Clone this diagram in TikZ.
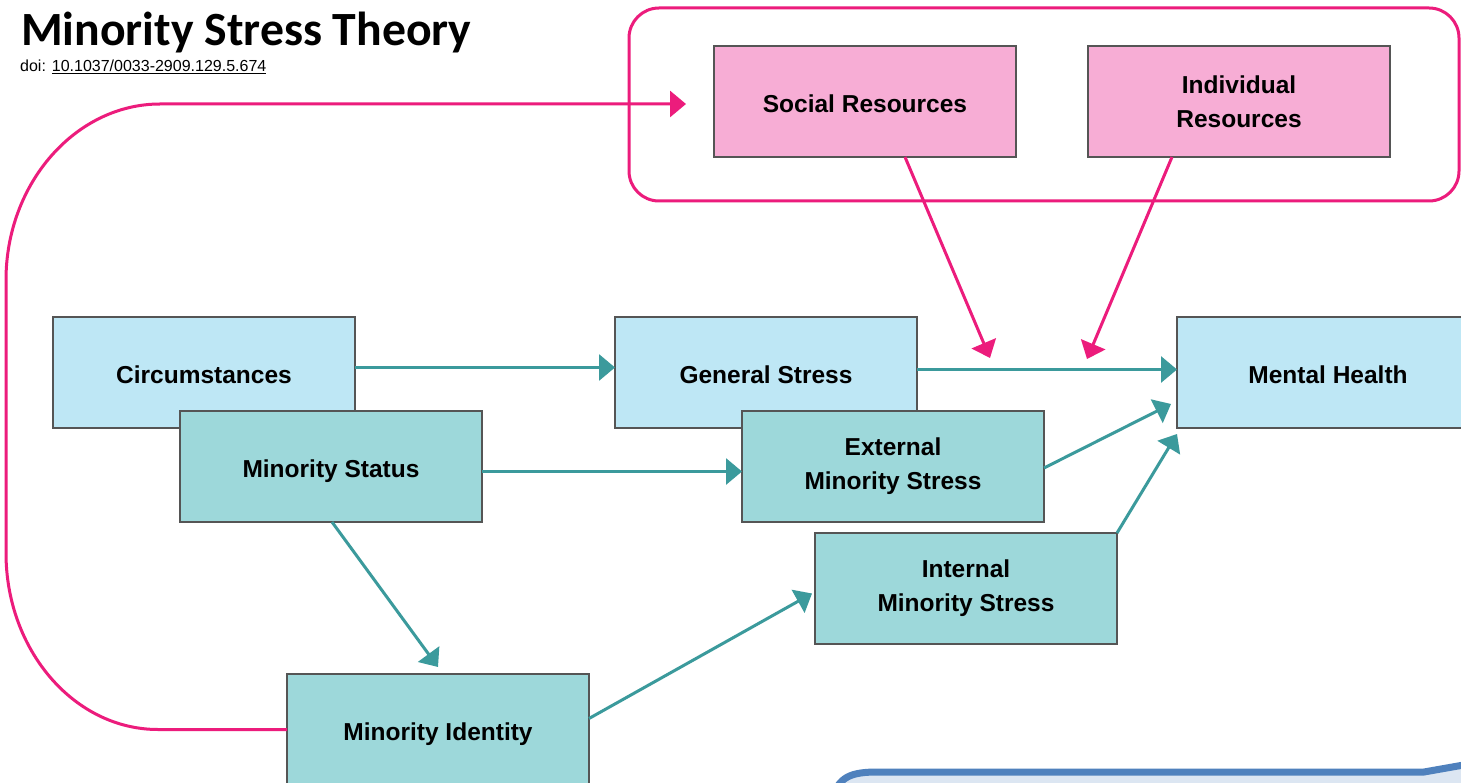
\documentclass[tikz,border=0pt]{standalone}
\usepackage{fontspec}
\setmainfont{Liberation Sans}
\newfontfamily\titlefont{Carlito}
\usetikzlibrary{arrows.meta}
\definecolor{lblue}{RGB}{190,231,245}
\definecolor{tealfill}{RGB}{157,216,218}
\definecolor{pinkfill}{RGB}{247,173,213}
\definecolor{boxline}{RGB}{85,85,85}
\definecolor{pinkline}{RGB}{236,28,124}
\definecolor{tealline}{RGB}{59,154,156}
\definecolor{cfill}{RGB}{220,230,242}
\definecolor{cline}{RGB}{79,129,189}
\begin{document}
\begin{tikzpicture}[x=1pt,y=-1pt,
  box/.style={draw=boxline,line width=1.5pt,minimum width=302pt,minimum height=111pt,
    inner sep=0pt,outer sep=0pt,anchor=north west,align=center,
    font={\fontsize{24.5}{34}\selectfont\bfseries}},
  oneline/.style={text height=22pt,text depth=0pt},
  bluebox/.style={box,fill=lblue},
  tealbox/.style={box,fill=tealfill},
  pinkbox/.style={box,fill=pinkfill},
  tarrow/.style={draw=tealline,line width=3pt,-{Triangle[length=16pt,width=26pt]}},
  parrow/.style={draw=pinkline,line width=3pt,-{Triangle[length=16pt,width=26pt]}},
]
\useasboundingbox (0,0) rectangle (1461,783);
\fill[white] (0,0) rectangle (1461,783);

% title
\node[anchor=base west,inner sep=0pt,font={\titlefont\fontsize{47.7}{56}\selectfont\bfseries}] (title) at (21,46) {Minority Stress Theory};
\node[anchor=base west,inner sep=0pt,font={\fontsize{16}{19}\selectfont}] (doi) at (20,72) {doi: \underline{10.1037/0033-2909.129.5.674}};

% resources group
\draw[pinkline,line width=3pt,rounded corners=30pt] (629,8) rectangle (1459,201);

% boxes
\node[bluebox,oneline] (circ) at (53,317) {Circumstances};
\node[tealbox,oneline] (ms) at (180,411) {Minority Status};
\node[bluebox,oneline] (gen) at (615,317) {General Stress};
\node[tealbox] (ext) at (742,411) {External\\Minority Stress};
\node[tealbox] (int) at (815,533) {Internal\\Minority Stress};
\node[bluebox,oneline] (mh) at (1177,317) {Mental Health};
\node[tealbox,oneline] (mi) at (287,674) {Minority Identity};
\node[pinkbox,oneline] (sr) at (714,46) {Social Resources};
\node[pinkbox] (ir) at (1088,46) {Individual\\Resources};

% teal arrows
\draw[tarrow] ([yshift=5pt]circ.east) -- ([yshift=5pt]gen.west);
\draw[tarrow] ([yshift=3pt]gen.east) -- ([yshift=3pt]mh.west);
\draw[tarrow] ([yshift=-5pt]ms.east) -- ([yshift=-5pt]ext.west);
\draw[tarrow] ([yshift=-1.5pt]ext.east) -- ([xshift=-6pt,yshift=-31.5pt]mh.west);
\draw[tarrow] (int.north east) -- ([yshift=-6pt]mh.south west);
\draw[tarrow] ([xshift=1pt]ms.south) -- ([yshift=7pt]mi.north);
\draw[tarrow] ([yshift=11pt]mi.east) -- ([xshift=-3pt,yshift=-5pt]int.west);

% pink arrows
\draw[parrow] ([xshift=40pt]sr.south) -- ([xshift=73pt,yshift=-41pt]gen.north east);
\draw[parrow] ([xshift=-67pt]ir.south) -- ([xshift=-90pt,yshift=-42pt]mh.north west);
\draw[parrow] (mi.west) -- (158,729.5) .. controls (74,729.5) and (6,650) .. (6,553)
  -- (6,280) .. controls (6,183) and (76,104) .. (160,104)
  -- ([xshift=-28pt,yshift=-2.5pt]sr.west);

% partial callout at bottom right
\draw[fill=cfill,draw=cline,line width=7pt] (832,800) .. controls (838,776) and (852,772) .. (878,772)
  -- (1424,772) -- (1475,763) -- (1475,800) -- cycle;
\end{tikzpicture}
\end{document}
